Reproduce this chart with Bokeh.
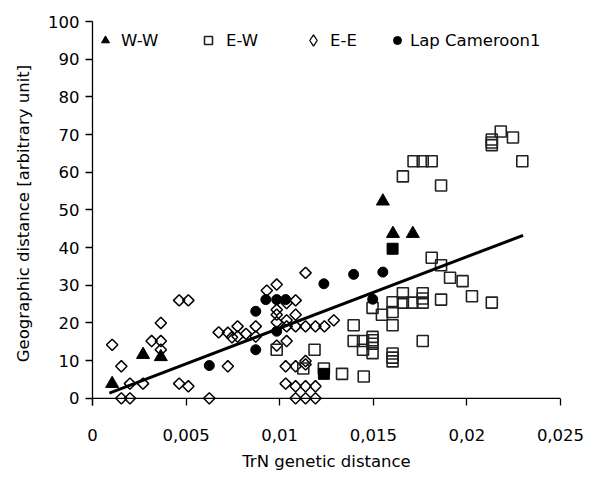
import math
from bokeh.plotting import figure
from bokeh.models import Range1d, FixedTicker, Span, Legend, LegendItem
from bokeh.embed import file_html
from bokeh.resources import INLINE

# ---- data ----
ww_x = [0.00105, 0.0027, 0.00365, 0.01551, 0.01605, 0.01711]
ww_y = [3.9, 11.6, 11.0, 52.3, 43.7, 43.7]

ew_x = [0.00984, 0.01186, 0.01126, 0.01236, 0.01333, 0.01449, 0.01395, 0.01395, 0.01445,
        0.01445, 0.01496, 0.01496, 0.01496, 0.01496, 0.01496, 0.01546, 0.01603, 0.01603,
        0.01603, 0.01603, 0.01603, 0.01603, 0.01658, 0.01658, 0.01709, 0.01764, 0.01764,
        0.01764, 0.01862, 0.01764, 0.01812, 0.01862, 0.0191, 0.01977, 0.02027, 0.02133,
        0.01658, 0.01715, 0.01764, 0.01812, 0.01862, 0.02296, 0.02133, 0.02133, 0.02133,
        0.02181, 0.02246]
ew_y = [12.9, 12.9, 7.9, 7.9, 6.5, 5.8, 19.4, 15.2, 15.2,
        12.9, 12.0, 16.3, 15.4, 14.5, 24.0, 22.2, 25.5, 22.9,
        19.4, 11.9, 10.8, 9.8, 27.9, 25.4, 25.4, 27.9, 25.4,
        26.5, 26.2, 15.2, 37.3, 35.3, 32.0, 31.1, 27.1, 25.4,
        58.9, 62.9, 62.9, 62.9, 56.5, 62.9, 68.7, 67.9, 67.2,
        70.8, 69.2]

ew_full_x = [0.01603, 0.01236]
ew_full_y = [39.7, 6.5]

ee_x = [0.00105, 0.00154, 0.00154, 0.0020, 0.0020, 0.0027, 0.00316, 0.00365, 0.00365,
        0.00365, 0.00463, 0.00512, 0.00463, 0.00512, 0.00624, 0.00674, 0.00723, 0.00745,
        0.00775, 0.00775, 0.00723, 0.0082, 0.00872, 0.00872, 0.00931, 0.00984, 0.01037,
        0.01085, 0.00984, 0.00984, 0.00984, 0.01037, 0.01085, 0.01037, 0.01085, 0.01138,
        0.01191, 0.01239, 0.01289, 0.01138, 0.01037, 0.00984, 0.01032, 0.01085, 0.01138,
        0.01138, 0.01032, 0.01085, 0.01138, 0.01191, 0.01085, 0.01138, 0.01191]
ee_y = [14.2, 8.5, 0, 0, 3.9, 3.9, 15.2, 20.0, 15.2,
        12.9, 26.0, 26.0, 3.9, 3.2, 0, 17.5, 17.4, 16.2,
        19.1, 16.4, 8.5, 17.1, 19.1, 16.4, 28.6, 30.2, 25.3,
        26.0, 23.5, 22.2, 20.2, 20.7, 22.2, 19.1, 19.1, 19.1,
        19.1, 19.1, 20.7, 33.3, 15.2, 14.0, 8.5, 8.5, 9.0,
        9.9, 3.9, 3.2, 3.2, 3.2, 0, 0, 0]

lap_x = [0.00624, 0.00872, 0.00872, 0.00926, 0.00984, 0.01032, 0.00984, 0.01236,
         0.01395, 0.01551, 0.01497]
lap_y = [8.7, 23.1, 12.9, 26.2, 26.2, 26.2, 17.8, 30.4, 32.9, 33.5, 26.3]

trend_x = [0.0009, 0.023]
trend_slope = 1894.0
trend_intercept = -0.3
trend_y = [trend_slope * x + trend_intercept for x in trend_x]

x_tick_values = [0, 0.005, 0.01, 0.015, 0.02, 0.025]
x_tick_labels = ["0", "0,005", "0,01", "0,015", "0,02", "0,025"]
y_tick_values = [0, 10, 20, 30, 40, 50, 60, 70, 80, 90, 100]

FONT = "DejaVu Sans"
FS = "16.5px"

p = figure(width=598, height=477, output_backend="svg", toolbar_location=None,
           x_range=Range1d(0, 0.025), y_range=Range1d(-1.9, 100),
           min_border_left=92, min_border_right=38, min_border_top=21,
           min_border_bottom=72)
p.outline_line_color = None
p.grid.visible = False
p.background_fill_color = "white"

# axes
p.xaxis.ticker = FixedTicker(ticks=x_tick_values)
p.xaxis.major_label_overrides = {v: l for v, l in zip(x_tick_values, x_tick_labels)}
p.xaxis.minor_tick_line_color = None
p.xaxis.axis_line_color = None
p.xaxis.major_tick_in = 7
p.xaxis.major_tick_out = 0
p.xaxis.major_tick_line_width = 1.3
p.xaxis.major_label_standoff = 23
p.xaxis.axis_label = "TrN genetic distance"
p.xaxis.axis_label_standoff = 8

p.yaxis.ticker = FixedTicker(ticks=y_tick_values)
p.yaxis.minor_tick_line_color = None
p.yaxis.major_tick_in = 0
p.yaxis.major_tick_out = 7
p.yaxis.major_tick_line_width = 1.3
p.yaxis.axis_line_width = 1.3
p.yaxis.major_label_standoff = 6
p.yaxis.axis_label = "Geographic distance [arbitrary unit]"
p.yaxis.axis_label_standoff = 12

for ax in (p.xaxis, p.yaxis):
    ax.major_label_text_font = FONT
    ax.major_label_text_font_size = FS
    ax.major_label_text_color = "black"
    ax.axis_label_text_font = FONT
    ax.axis_label_text_font_size = FS
    ax.axis_label_text_font_style = "normal"
    ax.axis_label_text_color = "black"
    ax.major_tick_line_color = "black"

p.add_layout(Span(location=0, dimension="width", line_color="black", line_width=1.3))

# markers
r_ee = p.scatter(ee_x, ee_y, marker="square", angle=math.pi / 4, size=8,
                 fill_alpha=0, line_color="black", line_width=1.5)
r_ew = p.scatter(ew_x, ew_y, marker="square", size=11, fill_alpha=0,
                 line_color="#222222", line_width=1.6)
p.scatter(ew_full_x, ew_full_y, marker="square", size=11, fill_color="black",
          line_color="black")
r_lap = p.scatter(lap_x, lap_y, marker="circle", size=10, fill_color="black",
                  line_color="black")
r_ww = p.scatter(ww_x, ww_y, marker="triangle", size=13, fill_color="black",
                 line_color="black")

p.line(trend_x, trend_y, line_color="black", line_width=3)

# legend swatch for E-E (diamond shape; not drawn in the plot area)
nan = float("nan")
r_ee_key = p.scatter(x=[nan], y=[nan], marker="diamond", size=11, fill_alpha=0,
                     line_color="black", line_width=1.3)

# legend (four single items placed like the reference)
legend_entries = [("W-W", r_ww, 3, 355, 20, 6),
                  ("E-W", r_ew, 106, 355, 20, 8),
                  ("E-E", r_ee_key, 207, 351, 28, 3),
                  ("Lap Cameroon1", r_lap, 295, 355, 20, 3)]
for label, rend, lx, ly, gsz, stand in legend_entries:
    leg = Legend(items=[LegendItem(label=label, renderers=[rend])],
                 location=(lx, ly), orientation="horizontal",
                 padding=0, margin=0, spacing=0,
                 glyph_width=gsz, glyph_height=gsz, label_standoff=stand,
                 border_line_color=None, background_fill_alpha=0,
                 label_text_font=FONT, label_text_font_size=FS,
                 label_text_color="black")
    p.add_layout(leg, "center")

open("out.html", "w").write(file_html(p, INLINE))
